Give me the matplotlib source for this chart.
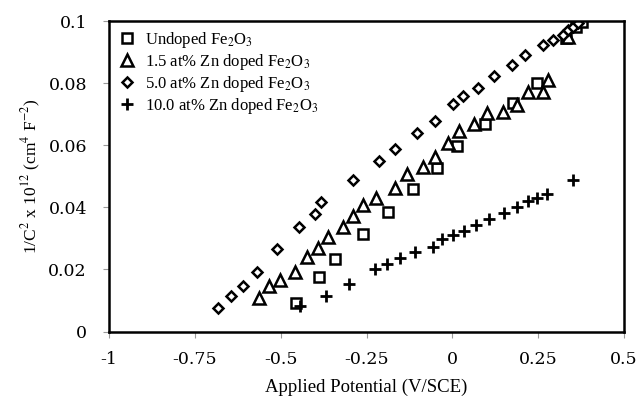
import matplotlib
matplotlib.use("Agg")
import matplotlib.pyplot as plt

# Mott-Schottky data
undoped_v = [-0.455, -0.388, -0.342, -0.260, -0.187, -0.114, -0.045, 0.014,
             0.095, 0.177, 0.247, 0.331, 0.360, 0.378]
undoped_c = [0.0092, 0.0176, 0.0233, 0.0314, 0.0385, 0.0459, 0.0527, 0.0597,
             0.0668, 0.0736, 0.0800, 0.0945, 0.0981, 0.0997]

zn15_v = [-0.563, -0.534, -0.502, -0.458, -0.423, -0.391, -0.362, -0.318,
          -0.289, -0.260, -0.222, -0.167, -0.132, -0.085, -0.050, -0.013,
          0.020, 0.063, 0.101, 0.148, 0.188, 0.220, 0.264, 0.279, 0.337]
zn15_c = [0.0108, 0.0147, 0.0166, 0.0192, 0.0240, 0.0269, 0.0304, 0.0337,
          0.0372, 0.0407, 0.0430, 0.0462, 0.0507, 0.0530, 0.0562, 0.0607,
          0.0646, 0.0668, 0.0704, 0.0707, 0.0729, 0.0771, 0.0771, 0.0810, 0.0948]

zn50_v = [-0.682, -0.645, -0.610, -0.569, -0.511, -0.447, -0.400, -0.382,
          -0.289, -0.214, -0.167, -0.103, -0.050, 0.002, 0.031, 0.075,
          0.121, 0.174, 0.212, 0.264, 0.293, 0.322, 0.337, 0.352, 0.366]
zn50_c = [0.0076, 0.0114, 0.0147, 0.0192, 0.0266, 0.0337, 0.0378, 0.0417,
          0.0488, 0.0549, 0.0588, 0.0639, 0.0678, 0.0733, 0.0758, 0.0784,
          0.0823, 0.0858, 0.0890, 0.0923, 0.0939, 0.0955, 0.0971, 0.0981, 0.0994]

zn100_v = [-0.444, -0.368, -0.301, -0.225, -0.190, -0.152, -0.109, -0.056,
           -0.030, 0.002, 0.034, 0.069, 0.107, 0.151, 0.188, 0.220, 0.247,
           0.276, 0.352]
zn100_c = [0.0082, 0.0114, 0.0153, 0.0201, 0.0217, 0.0237, 0.0256, 0.0272,
           0.0298, 0.0311, 0.0324, 0.0343, 0.0362, 0.0382, 0.0401, 0.0420,
           0.0430, 0.0443, 0.0488]

x_ticks = [-1, -0.75, -0.5, -0.25, 0, 0.25, 0.5]
x_labels = ['-1', '-0.75', '-0.5', '-0.25', '0', '0.25', '0.5']
y_ticks = [0, 0.02, 0.04, 0.06, 0.08, 0.1]
y_labels = ['0', '0.02', '0.04', '0.06', '0.08', '0.1']

plt.rcParams['mathtext.fontset'] = 'stix'
serif = 'Liberation Serif'

fig = plt.figure(figsize=(6.42, 3.99), dpi=100)
ax = fig.add_axes([0.170, 0.169, 0.802, 0.778])

ax.plot(undoped_v, undoped_c, ls='none', marker='s', ms=6.5, mfc='white',
        mec='black', mew=1.8, label='Undoped Fe$_2$O$_3$')
ax.plot(zn15_v, zn15_c, ls='none', marker='^', ms=8, mfc='white',
        mec='black', mew=1.8, label='1.5 at% Zn doped Fe$_2$O$_3$')
ax.plot(zn50_v, zn50_c, ls='none', marker='D', ms=5.5, mfc='white',
        mec='black', mew=1.8, label='5.0 at% Zn doped Fe$_2$O$_3$')
ax.plot(zn100_v, zn100_c, ls='none', marker='+', ms=8.5, mec='black',
        mew=2.0, label='10.0 at% Zn doped Fe$_2$O$_3$')

ax.set_xlim(-1, 0.5)
ax.set_ylim(0, 0.1)
ax.set_xticks(x_ticks)
ax.set_xticklabels(x_labels, family='DejaVu Serif', fontsize=12.5)
ax.set_yticks(y_ticks)
ax.set_yticklabels(y_labels, family='DejaVu Serif', fontsize=12.5)
ax.tick_params(direction='out', length=4, width=0.8, color='#999999')
ax.tick_params(axis='x', pad=10)
ax.tick_params(axis='y', pad=12)

for s in ax.spines.values():
    s.set_linewidth(1.8)

ax.set_xlabel('Applied Potential (V/SCE)', family=serif, fontsize=13.5, labelpad=8)
ax.set_ylabel('1/C$^2$ x 10$^{12}$ (cm$^4$ F$^{-2}$)', family=serif,
              fontsize=12.5, labelpad=4)

leg = ax.legend(loc='upper left', frameon=False, prop={'family': serif, 'size': 12},
                handlelength=1.0, handletextpad=0.6, labelspacing=0.12,
                borderaxespad=0.15)

fig.savefig('out.png', dpi=100)
